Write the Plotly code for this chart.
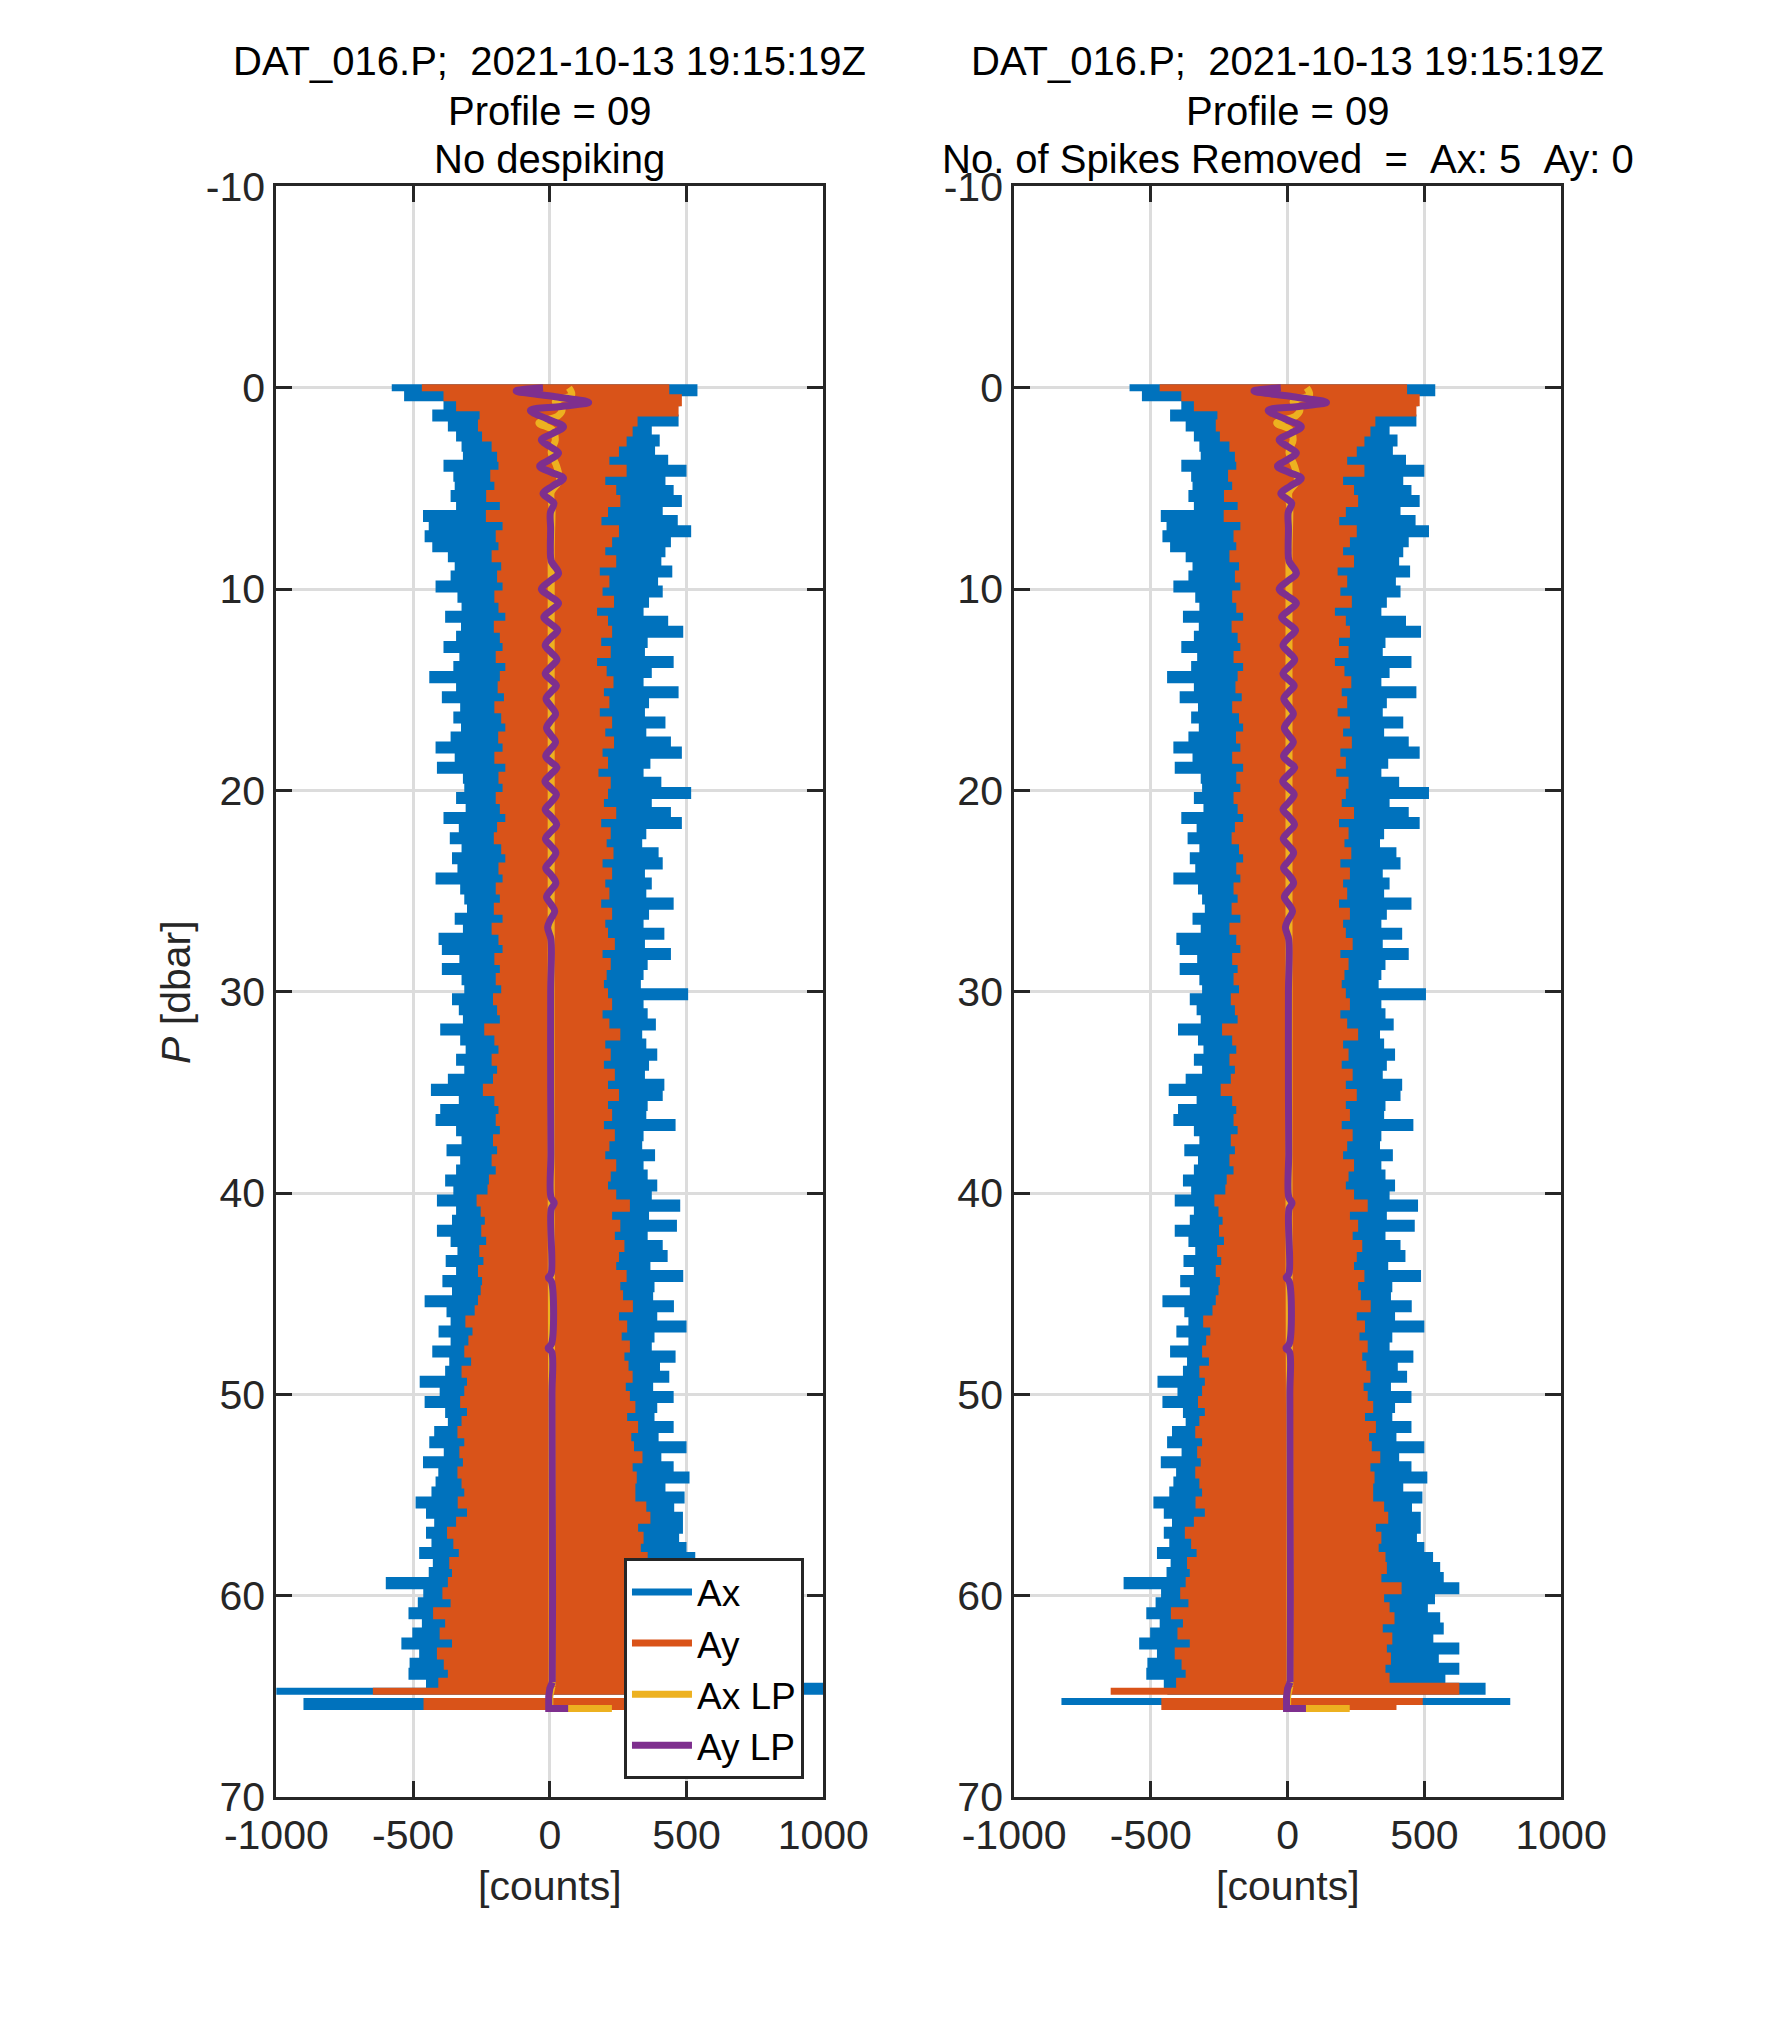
import numpy as np
import plotly.graph_objects as go

FONT = "Liberation Sans, Arial, Helvetica, sans-serif"
W, H = 1772, 2029

# accelerometer profile, sampled every 0.25 dbar from the surface.
# *_lo are the left-hand extremes (P = 0, 0.5, ... 64.5),
# *_hi the right-hand extremes (P = 0.25, 0.75, ... 64.75)
P_STEP = 0.25

ax_lo = [
    -578, -520, -376, -417, -360, -330, -310, -305, -376, -340,
    -335, -350, -330, -451, -430, -445, -417, -360, -335, -350,
    -405, -325, -310, -370, -312, -330, -376, -318, -340, -428,
    -330, -382, -315, -340, -312, -350, -405, -335, -400, -305,
    -300, -330, -295, -376, -320, -353, -310, -345, -325, -405,
    -315, -300, -290, -335, -305, -394, -382, -318, -382, -310,
    -300, -345, -320, -305, -388, -315, -295, -330, -300, -360,
    -422, -320, -388, -405, -330, -310, -365, -315, -330, -370,
    -340, -400, -330, -345, -400, -350, -325, -368, -330, -380,
    -345, -445, -365, -350, -394, -350, -417, -355, -370, -463,
    -390, -445, -370, -360, -410, -428, -375, -451, -395, -405,
    -420, -478, -440, -410, -440, -420, -465, -415, -430, -587,
    -450, -470, -504, -455, -490, -530, -465, -500, -504, -440,
]
ax_hi = [
    527, 464, 452, 458, 360, 389, 372, 420, 487, 410,
    440, 470, 400, 455, 504, 430, 410, 395, 435, 383,
    400, 350, 330, 420, 475, 345, 335, 440, 360, 330,
    458, 350, 335, 410, 340, 430, 470, 355, 330, 395,
    504, 360, 430, 470, 340, 325, 385, 400, 335, 360,
    340, 440, 350, 330, 406, 335, 430, 345, 330, 320,
    493, 330, 345, 375, 325, 340, 380, 350, 335, 406,
    400, 345, 340, 447, 330, 325, 372, 330, 345, 380,
    360, 464, 350, 452, 345, 400, 418, 355, 475, 370,
    365, 441, 380, 487, 370, 360, 447, 390, 424, 365,
    440, 380, 370, 440, 385, 487, 395, 440, 498, 410,
    480, 442, 474, 474, 460, 487, 519, 545, 558, 615,
    526, 500, 545, 558, 520, 615, 540, 615, 564, 1050,
]
ay_lo = [
    -468, -376, -330, -244, -250, -235, -200, -180, -175, -205,
    -190, -220, -170, -221, -160, -185, -175, -200, -165, -180,
    -160, -190, -175, -150, -192, -170, -160, -185, -150, -170,
    -178, -155, -190, -165, -150, -176, -160, -190, -150, -175,
    -160, -185, -170, -150, -180, -192, -165, -150, -175, -160,
    -185, -170, -192, -160, -200, -175, -160, -190, -170, -185,
    -165, -195, -180, -170, -227, -190, -175, -200, -180, -195,
    -232, -190, -175, -185, -170, -195, -180, -200, -185, -210,
    -215, -255, -240, -225, -238, -220, -245, -230, -250, -235,
    -240, -250, -262, -296, -270, -285, -300, -275, -310, -290,
    -300, -315, -290, -310, -325, -300, -318, -305, -325, -310,
    -300, -324, -290, -330, -363, -340, -320, -355, -345, -360,
    -380, -350, -414, -370, -390, -345, -400, -375, -360, -395,
]
ay_hi = [
    424, 470, 458, 308, 290, 268, 240, 205, 268, 190,
    230, 245, 200, 176, 240, 215, 190, 230, 170, 205,
    180, 222, 160, 200, 215, 175, 210, 160, 195, 220,
    185, 205, 170, 215, 190, 222, 180, 200, 165, 210,
    200, 185, 230, 175, 210, 195, 220, 180, 215, 190,
    205, 175, 215, 190, 200, 225, 180, 210, 195, 185,
    200, 215, 180, 205, 245, 190, 210, 185, 225, 200,
    240, 200, 215, 185, 225, 205, 190, 230, 210, 200,
    230, 280, 215, 245, 225, 260, 240, 230, 268, 245,
    255, 291, 240, 270, 250, 280, 260, 275, 290, 265,
    280, 300, 270, 310, 285, 295, 326, 290, 305, 300,
    300, 340, 355, 310, 330, 320, 345, 350, 330, 404,
    340, 360, 378, 335, 370, 350, 365, 345, 360, 615,
]
# closing value of the last row before the gap
ax_end = -1050
ay_end = -647

# short piece recorded below the gap
tail_p = [65.25, 65.25, 65.5, 65.5]
ax_tail = [-830, 814, -888, 300]
ay_tail = [-440, 494, -449, 398]

# despiked Ax (right panel): only the bottom rows differ
ax_hi_clean = ax_hi[:-1] + [711]
ax_end_clean = -440
ax_tail_clean = [-827, 814, 300, -300]

# low-pass versions (smooth part, then the straight end of the record)
aylp_p = [0.0, 0.16, 0.45, 0.73, 0.93, 1.13, 1.55, 1.94, 2.27, 2.6, 2.92, 3.24,
          3.57, 3.9, 4.2, 4.5, 4.88, 5.26, 5.5, 5.74, 6.2, 7.0, 8.0, 8.6, 9.22,
          9.6, 10.0, 10.35, 10.7, 11.05, 11.4, 11.72, 12.05, 12.4, 12.8, 13.15,
          13.5, 13.85, 14.2, 14.5, 14.8, 15.1, 15.45, 15.8, 16.2, 16.55, 16.9,
          17.25, 17.6, 17.95, 18.3, 18.6, 18.85, 19.2, 19.55, 19.9, 20.2, 20.6,
          20.95, 21.3, 21.7, 22.05, 22.4, 22.75, 23.1, 23.5, 23.85, 24.2, 24.6,
          24.95, 25.3, 25.65, 26.0, 26.4, 26.8, 27.4, 30.0, 35.0, 38.0, 40.2,
          40.5, 40.8, 44.0, 44.2, 44.4, 47.5, 47.7, 47.9, 50.0, 55.0, 60.0,
          64.3]
aylp = [-25, -123, 20, 142, 40, -71, -10, 50, 10, -31, 0, 32,
        0, -37, 5, 50, 10, -25, -5, 15, 2, 3, 2, 5, 32,
        0, -31, 0, 32, 5, -22, 3, 29, 5, -17, 5,
        26, 5, -17, 3, 24, 5, -14, 3, 21, 3, -12,
        4, 21, 3, -15, 5, 26, 4, -18, 5, 24, 4,
        -17, 5, 25, 4, -16, 4, 22, 4, -15, 5, 22,
        4, -12, 4, 18, 3, -8, 4, 3, 3, 4, 4,
        16, 5, 5, -5, 6, 6, -6, 7, 8, 9, 10,
        9]
aylp_end_p = [64.3, 64.6, 65.0, 65.6, 65.6]
aylp_end = [9, 0, -4, -4, 67]

axlp_p = [0.0, 0.35, 0.7, 1.05, 1.4, 1.75, 2.1, 2.6, 3.2, 3.9, 4.6, 5.2, 6.0,
          8.0, 10.0, 20.0, 30.0, 40.0, 48.0, 55.0, 64.5]
axlp = [70, 80, 20, 45, 30, -40, 10, 20, 5, 25, 35, 5, 8,
        5, 5, 5, 5, 5, 6, 8, 8]
axlp_end_p = [64.5, 65.0, 65.6, 65.6]
axlp_end = [8, 0, 0, 227]

BLUE, ORANGE, YELLOW, PURPLE = "#0072BD", "#D95319", "#EDB120", "#7E2F8E"


def profile(lo, hi, end, tail):
    """Rows alternate left/right extremes; add the closing value and the tail."""
    x = np.empty(len(lo) + len(hi))
    x[0::2] = lo
    x[1::2] = hi
    p = np.arange(len(x)) * P_STEP
    xs = list(x) + [end, None] + list(tail)
    ps = list(p) + [p[-1], None] + list(tail_p)
    return xs, ps


fig = go.Figure()

panels = [
    ("x", "y", profile(ax_lo, ax_hi, ax_end, ax_tail), True),
    ("x2", "y2", profile(ax_lo, ax_hi_clean, ax_end_clean, ax_tail_clean), False),
]
for xa, ya, (ax_x, ax_p), legend in panels:
    ay_x, ay_p = profile(ay_lo, ay_hi, ay_end, ay_tail)
    g = xa
    fig.add_trace(go.Scatter(x=ax_x, y=ax_p, mode="lines", name="Ax", xaxis=xa, yaxis=ya,
                             line=dict(color=BLUE, width=7, shape="hv"), showlegend=legend))
    fig.add_trace(go.Scatter(x=ay_x, y=ay_p, mode="lines", name="Ay", xaxis=xa, yaxis=ya,
                             line=dict(color=ORANGE, width=7, shape="hv"), showlegend=legend))
    fig.add_trace(go.Scatter(x=axlp, y=axlp_p, mode="lines", name="Ax LP", xaxis=xa, yaxis=ya,
                             legendgroup=g + "axlp",
                             line=dict(color=YELLOW, width=7, shape="spline"), showlegend=legend))
    fig.add_trace(go.Scatter(x=axlp_end, y=axlp_end_p, mode="lines", name="Ax LP", xaxis=xa,
                             yaxis=ya, legendgroup=g + "axlp",
                             line=dict(color=YELLOW, width=7), showlegend=False))
    fig.add_trace(go.Scatter(x=aylp, y=aylp_p, mode="lines", name="Ay LP", xaxis=xa, yaxis=ya,
                             legendgroup=g + "aylp",
                             line=dict(color=PURPLE, width=7, shape="spline"), showlegend=legend))
    fig.add_trace(go.Scatter(x=aylp_end, y=aylp_end_p, mode="lines", name="Ay LP", xaxis=xa,
                             yaxis=ya, legendgroup=g + "aylp",
                             line=dict(color=PURPLE, width=7), showlegend=False))

ax_style = dict(
    showline=True, linecolor="#262626", linewidth=3, mirror="ticks",
    ticks="inside", ticklen=16, tickwidth=3, tickcolor="#262626",
    showgrid=True, gridcolor="#dcdcdc", gridwidth=2.5, zeroline=False,
    tickfont=dict(family=FONT, size=41, color="#262626"),
)
xticks = [-1000, -500, 0, 500, 1000]
pticks = list(range(-10, 71, 10))
xstyle = dict(ax_style, range=[-1000, 1000], tickvals=xticks, ticktext=[str(v) for v in xticks])
ystyle = dict(ax_style, range=[70, -10], tickvals=pticks, ticktext=[str(v) for v in pticks])

ydom = [1 - 1807 / H, 1 - 159 / H]
fig.update_layout(
    width=W, height=H, margin=dict(l=0, r=0, t=0, b=0),
    paper_bgcolor="white", plot_bgcolor="white",
    xaxis=dict(xstyle, domain=[229 / W, 808 / W], anchor="y"),
    yaxis=dict(ystyle, domain=ydom, anchor="x"),
    xaxis2=dict(xstyle, domain=[1010 / W, 1589 / W], anchor="y2"),
    yaxis2=dict(ystyle, domain=ydom, anchor="x2"),
    legend=dict(x=597 / W, y=1 - 1789 / H, xanchor="left", yanchor="bottom",
                bgcolor="white", bordercolor="#262626", borderwidth=3,
                font=dict(family=FONT, size=37, color="black"), itemwidth=60,
                tracegroupgap=0),
)

NB = "\u00a0"
head = "DAT_016.P;" + NB * 2 + "2021-10-13 19:15:19Z"
titles = [
    (518.5, [head, "Profile = 09", "No despiking"]),
    (1299.5, [head, "Profile = 09",
              "No. of Spikes Removed" + NB * 2 + "=" + NB * 2 + "Ax: 5" + NB * 2 + "Ay: 0"]),
]
for cx, lines in titles:
    for ty, txt in zip([31, 82, 131], lines):
        fig.add_annotation(text=txt, x=cx / W, y=1 - ty / H, xref="paper", yref="paper",
                           xanchor="center", yanchor="middle", showarrow=False,
                           font=dict(family=FONT, size=40, color="black"))
    fig.add_annotation(text="[counts]", x=cx / W, y=1 - 1898 / H, xref="paper", yref="paper",
                       xanchor="center", yanchor="middle", showarrow=False,
                       font=dict(family=FONT, size=41, color="#262626"))

fig.add_annotation(text="<i>P</i> [dbar]", x=122 / W, y=1 - 983 / H, xref="paper", yref="paper",
                   xanchor="center", yanchor="middle", textangle=-90, showarrow=False,
                   font=dict(family=FONT, size=41, color="#262626"))

fig.write_html("out.html")
